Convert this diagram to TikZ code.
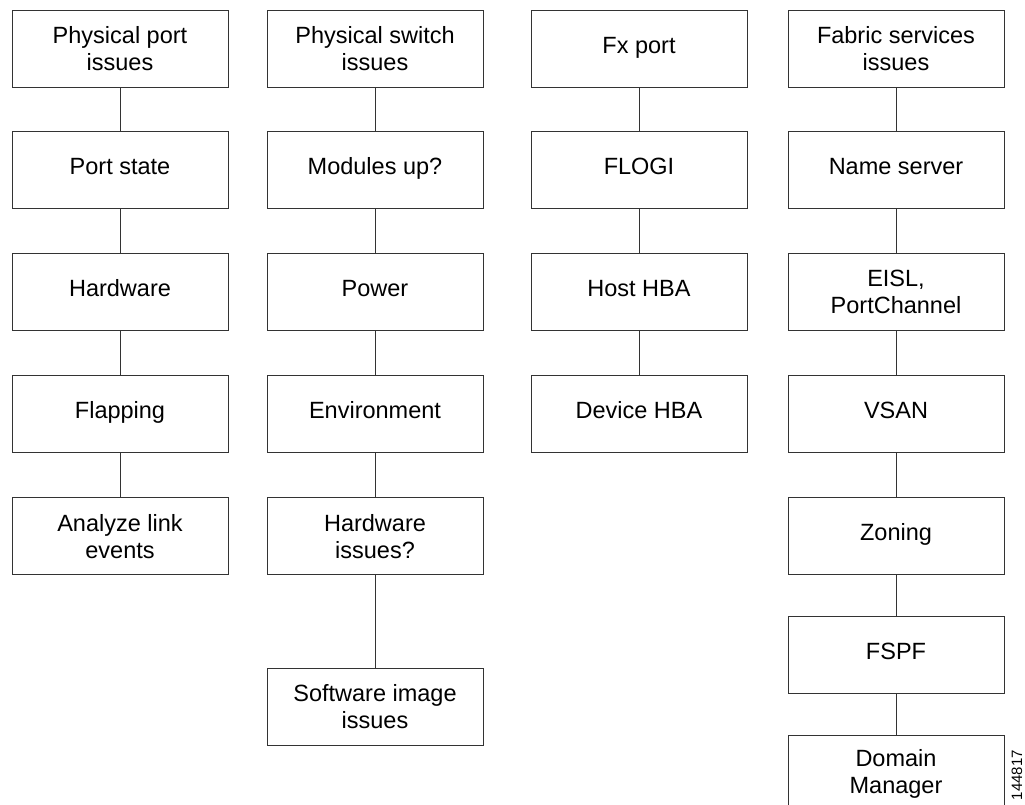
\documentclass[tikz,border=0pt]{standalone}
\usepackage{fontspec}
\setmainfont{Liberation Sans}
\usetikzlibrary{positioning}

\begin{document}
\begin{tikzpicture}[x=1pt,y=1pt,
box/.style={rectangle, draw=black!80, line width=0.9pt, minimum width=216pt, minimum height=77pt, inner sep=2pt, align=center, font=\fontsize{23.5}{27}\selectfont},
single/.style={box, text height=17pt, text depth=8pt},
link/.style={draw=black!80, line width=0.9pt},
node distance=44pt]
\useasboundingbox (0,0) rectangle (1025,-804);

% physical port issues
\node[box] (port) at (120,-48.5) {Physical port\\issues};
\node[single,below=of port] (pstate) {Port state};
\node[single,below=of pstate] (hw) {Hardware};
\node[single,below=of hw] (flap) {Flapping};
\node[box,below=of flap] (events) {Analyze link\\events};

% physical switch issues
\node[box] (switch) at (375,-48.5) {Physical switch\\issues};
\node[single,below=of switch] (modules) {Modules up?};
\node[single,below=of modules] (power) {Power};
\node[single,below=of power] (env) {Environment};
\node[box,below=of env] (hwissues) {Hardware\\issues?};
\node[box,below=93pt of hwissues] (image) {Software image\\issues};

% fx port
\node[single] (fx) at (639,-48.5) {Fx port};
\node[single,below=of fx] (flogi) {FLOGI};
\node[single,below=of flogi] (host) {Host HBA};
\node[single,below=of host] (device) {Device HBA};

% fabric services
\node[box] (fabric) at (896,-48.5) {Fabric services\\issues};
\node[single,below=of fabric] (name) {Name server};
\node[box,below=of name] (eisl) {EISL,\\PortChannel};
\node[single,below=of eisl] (vsan) {VSAN};
\node[single,below=of vsan] (zoning) {Zoning};
\node[single,below=41pt of zoning] (fspf) {FSPF};
\node[box,below=41pt of fspf] (domain) {Domain\\Manager};

\foreach \a/\b in {port/pstate,pstate/hw,hw/flap,flap/events,
  switch/modules,modules/power,power/env,env/hwissues,hwissues/image,
  fx/flogi,flogi/host,host/device,
  fabric/name,name/eisl,eisl/vsan,vsan/zoning,zoning/fspf,fspf/domain}
  \draw[link] (\a) -- (\b);

\node[rotate=90, font=\fontsize{15}{17}\selectfont, inner sep=0pt] (fig) at (1017,-775) {144817};
\end{tikzpicture}
\end{document}
